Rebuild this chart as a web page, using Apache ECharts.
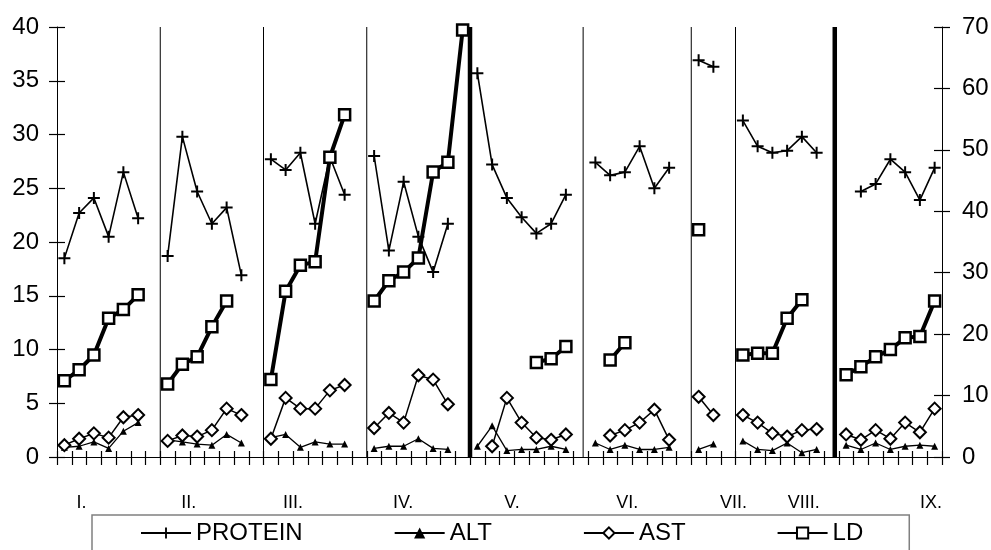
<!DOCTYPE html>
<html>
<head>
<meta charset="utf-8">
<script src="https://cdn.jsdelivr.net/npm/echarts@6/dist/echarts.min.js"></script>
<style>
  html, body { margin: 0; background: #fff; }
  #main { width: 991px; height: 550px; }
</style>
</head>
<body>
<div id="main"></div>
<script>
// 60 measuring slots, groups I.-IX. separated by empty slots
var slots = [];
for (var i = 0; i < 60; i++) slots.push(String(i));

// left axis (0-40)
var protein = [
  18.5, 22.7, 24.1, 20.5, 26.5, 22.2, null,
  18.7, 29.8, 24.7, 21.7, 23.2, 16.9, null,
  27.7, 26.7, 28.3, 21.7, 27.9, 24.4, null,
  28.0, 19.2, 25.6, 20.5, 17.2, 21.7, null,
  35.7, 27.2, 24.1, 22.3, 20.8, 21.7, 24.4, null,
  27.4, 26.2, 26.5, 28.9, 25.0, 26.9, null,
  36.9, 36.3, null,
  31.3, 28.9, 28.3, 28.5, 29.8, 28.3, null, null,
  24.7, 25.4, 27.7, 26.5, 23.9, 26.9
];
var alt = [
  0.9, 1.0, 1.4, 0.8, 2.4, 3.2, null,
  1.6, 1.4, 1.2, 1.1, 2.1, 1.3, null,
  1.8, 2.1, 0.9, 1.4, 1.2, 1.2, null,
  0.8, 1.0, 1.0, 1.7, 0.8, 0.7, null,
  1.0, 2.9, 0.6, 0.7, 0.7, 1.0, 0.7, null,
  1.3, 0.7, 1.1, 0.7, 0.7, 0.9, null,
  0.7, 1.2, null,
  1.5, 0.7, 0.6, 1.3, 0.4, 0.7, null,
  1.1, 0.7, 1.3, 0.7, 1.0, 1.1, 1.0
];
var ast = [
  1.1, 1.7, 2.2, 1.8, 3.7, 3.9, null,
  1.5, 2.0, 1.9, 2.5, 4.5, 3.9, null,
  1.7, 5.5, 4.5, 4.5, 6.2, 6.7, null,
  2.7, 4.1, 3.2, 7.6, 7.2, 4.9, null,
  null, 1.0, 5.5, 3.2, 1.8, 1.6, 2.1, null,
  null, 2.0, 2.5, 3.2, 4.4, 1.6, null,
  5.6, 3.9, null,
  3.9, 3.2, 2.2, 1.9, 2.5, 2.6, null,
  2.1, 1.6, 2.5, 1.7, 3.2, 2.3, 4.5
];
// right axis (0-70)
var ld = [
  12.4, 14.2, 16.6, 22.6, 24.0, 26.4, null,
  11.9, 15.1, 16.3, 21.2, 25.4, null, null,
  12.6, 27.0, 31.2, 31.8, 48.8, 55.7, null,
  25.4, 28.7, 30.1, 32.4, 46.4, 48.0, 69.5,
  null, null, null, null, 15.4, 16.0, 18.0, null,
  null, 15.8, 18.6, null, null, null, null,
  37.0, null, null,
  16.6, 16.9, 16.9, 22.6, 25.6, null, null,
  13.4, 14.7, 16.3, 17.5, 19.4, 19.6, 25.4
];

var groupLabels = ['I.', 'II.', 'III.', 'IV.', 'V.', 'VI.', 'VII.', 'VIII.', 'IX.'];
var groupLabelAt = [1.66, 8.94, 16.0, 23.47, 30.85, 38.66, 45.87, 50.62, 59.25];
var dividers = [7, 14, 21, 28, 35.67, 43, 46, 52.73];
var boldDividers = [28, 52.73];

var FONT = 'Liberation Sans, Arial, sans-serif';
var plus = 'path://M5,0H7V5H12V7H7V12H5V7H0V5H5Z';

var chart = echarts.init(document.getElementById('main'));

var series = [];
dividers.forEach(function (d) {
  series.push({
    type: 'line', xAxisIndex: 1, yAxisIndex: 0, silent: true,
    symbol: 'none', z: 1,
    data: [[d, 0], [d, 40]],
    lineStyle: { color: '#000', width: boldDividers.indexOf(d) >= 0 ? 4.5 : 1 }
  });
});
series.push(
  {
    name: 'ALT', type: 'line', data: alt, z: 3, showAllSymbol: true,
    symbol: 'triangle', symbolSize: 7,
    lineStyle: { color: '#000', width: 1.3 },
    itemStyle: { color: '#000', borderWidth: 0 }
  },
  {
    name: 'AST', type: 'line', data: ast, z: 4, showAllSymbol: true,
    symbol: 'diamond', symbolSize: 12,
    lineStyle: { color: '#000', width: 1.5 },
    itemStyle: { color: '#fff', borderColor: '#000', borderWidth: 2 }
  },
  {
    name: 'PROTEIN', type: 'line', data: protein, z: 5, showAllSymbol: true,
    symbol: plus, symbolSize: 12,
    lineStyle: { color: '#000', width: 1.6 },
    itemStyle: { color: '#000', borderWidth: 0 }
  },
  {
    name: 'LD', type: 'line', data: ld, yAxisIndex: 1, z: 6, showAllSymbol: true,
    symbol: 'rect', symbolSize: 11,
    lineStyle: { color: '#000', width: 4 },
    itemStyle: { color: '#fff', borderColor: '#000', borderWidth: 2.5 }
  }
);

function ticks(inside, len) {
  return { show: true, inside: inside, length: len, interval: 0,
           lineStyle: { color: '#000', width: 1.2 } };
}

chart.setOption({
  animation: false,
  backgroundColor: '#fff',
  textStyle: { fontFamily: FONT, color: '#000' },
  grid: { left: 57, right: 49, top: 27, bottom: 93, outerBoundsMode: 'none' },
  legend: {
    data: ['PROTEIN', 'ALT', 'AST', 'LD'],
    left: 92, top: 515,
    padding: [6, 46, 60, 48],
    itemGap: 91, itemWidth: 50, itemHeight: 14,
    borderColor: '#808080', borderWidth: 1.5,
    textStyle: { fontFamily: FONT, fontSize: 24, color: '#000' }
  },
  xAxis: [
    {
      type: 'category', data: slots, boundaryGap: true,
      axisLine: { show: true, lineStyle: { color: '#000', width: 1 } },
      axisTick: ticks(false, 8),
      axisLabel: { show: false }, splitLine: { show: false }
    },
    {
      type: 'value', min: 0, max: 60, position: 'bottom',
      axisLine: { show: false }, axisTick: { show: false }, splitLine: { show: false },
      axisLabel: {
        customValues: groupLabelAt, margin: 37,
        fontFamily: FONT, fontSize: 18, color: '#000',
        formatter: function (v) { return groupLabels[groupLabelAt.indexOf(v)] || ''; }
      }
    },
    {
      type: 'category', data: slots, boundaryGap: true, position: 'bottom',
      axisLine: { show: false },
      axisTick: ticks(true, 6),
      axisLabel: { show: false }, splitLine: { show: false }
    }
  ],
  yAxis: [
    {
      type: 'value', min: 0, max: 40, interval: 5, position: 'left',
      axisLine: { show: true, lineStyle: { color: '#000', width: 1 } },
      axisTick: ticks(false, 8),
      axisLabel: { margin: 18, fontFamily: FONT, fontSize: 24, color: '#000' },
      splitLine: { show: false }
    },
    {
      type: 'value', min: 0, max: 70, interval: 10, position: 'right',
      axisLine: { show: true, lineStyle: { color: '#000', width: 1 } },
      axisTick: ticks(false, 8),
      axisLabel: { margin: 20, fontFamily: FONT, fontSize: 24, color: '#000' },
      splitLine: { show: false }
    },
    {
      type: 'value', min: 0, max: 40, interval: 5, position: 'left',
      axisLine: { show: false },
      axisTick: ticks(true, 8),
      axisLabel: { show: false }, splitLine: { show: false }
    },
    {
      type: 'value', min: 0, max: 70, interval: 10, position: 'right',
      axisLine: { show: false },
      axisTick: ticks(true, 8),
      axisLabel: { show: false }, splitLine: { show: false }
    }
  ],
  series: series
});
</script>
</body>
</html>
